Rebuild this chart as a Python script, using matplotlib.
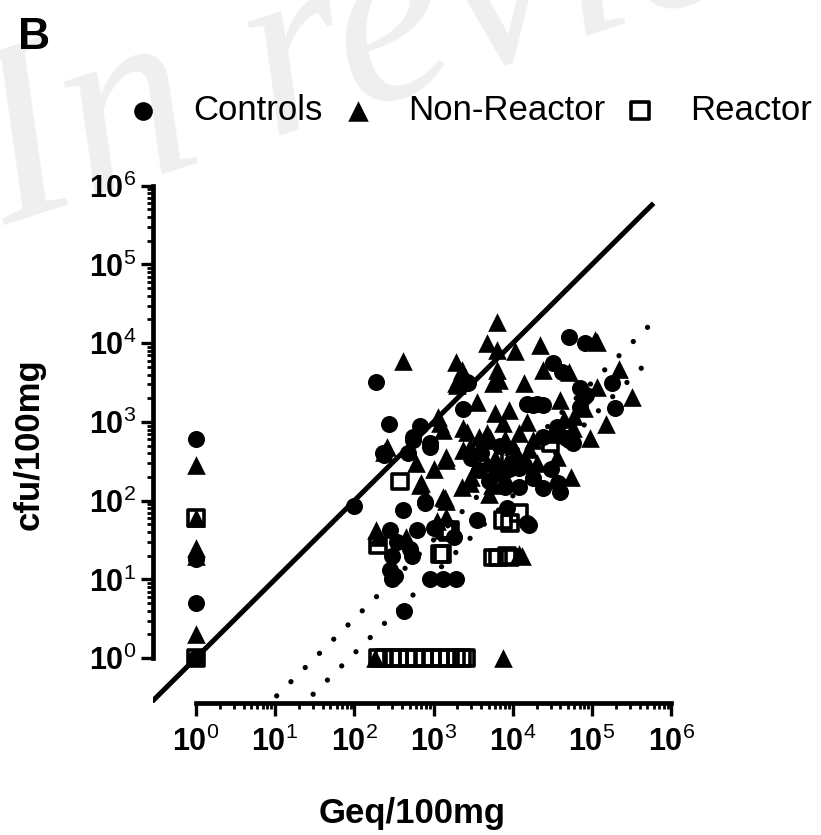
"""Geq vs cfu per 100 mg, log-log scatter (panel B)."""
import numpy as np
import matplotlib
matplotlib.use("Agg")
import matplotlib.pyplot as plt
from matplotlib.ticker import FixedLocator, FixedFormatter, NullFormatter

plt.rcParams["font.family"] = ["Liberation Sans", "DejaVu Sans"]
plt.rcParams["mathtext.fontset"] = "custom"
plt.rcParams["mathtext.rm"] = "Liberation Sans"
plt.rcParams["mathtext.bf"] = "Liberation Sans:bold"

# --- data ---
ctrl_geq = [1, 1, 1, 1, 100, 190, 275, 230, 240, 680, 550, 900, 470, 2650, 2350,
            52000, 81000, 32000, 42000, 18000, 24000, 80000, 195000, 52000, 70000,
            70000, 180000, 20000, 410, 780, 280, 500, 280, 300, 900, 1300, 1950, 430,
            16000, 12000, 24000, 40000, 550, 900, 770, 3800, 6300, 12000, 18000, 37000,
            24000, 47000, 620, 530, 330, 3500, 15000, 8400, 2700, 36000, 57000, 15000,
            85000, 5000, 8000, 10000, 30000, 4000, 7000, 14000, 1000, 1800, 350, 300,
            9000, 3000]
ctrl_cfu = [600, 18, 5, 1, 85, 3200, 950, 400, 380, 900, 640, 480, 400, 3200, 1450,
            12000, 10000, 5600, 4300, 1630, 1630, 2100, 1500, 590, 1550,
            2700, 3100, 1700, 76, 93, 42, 24, 13, 10, 10, 10, 10, 4,
            49, 150, 145, 130, 590, 540, 95, 245, 225, 260, 195, 170,
            640, 620, 42, 20, 11, 57, 52, 80, 3100, 860, 540, 1700,
            2200, 180, 150, 300, 250, 400, 500, 280, 45, 35, 30, 20,
            250, 350]

nonr_geq = [1, 1, 1, 1, 1, 410, 1950, 4700, 6300, 2000, 2650, 2900, 4700, 1300, 1450,
            10700, 22000, 14000, 24000, 52000, 115000, 220000, 320000, 115000, 150000,
            95000, 40000, 6300, 5600, 1950, 2300, 1150, 2350, 4700, 7500, 12000, 18000,
            3800, 1200, 5200, 1450, 2350, 700, 1400, 2900, 4700, 8400, 55000, 36000,
            57000, 260, 190, 310, 670, 1300, 2300, 1450, 1450, 12000, 13000, 180, 7500,
            240, 6300, 6800, 110000, 200, 3000, 5000, 8000, 10000, 20000, 30000, 60000,
            80000, 6000, 9000, 3500, 1000, 600, 15000, 45000, 6000, 11000, 5500, 16000,
            1100, 450, 8000]
nonr_cfu = [280, 60, 25, 20, 2, 6000, 5800, 10000, 18500, 2950, 750, 480, 590, 790, 360,
            8000, 9500, 3100, 4600, 4300, 10500, 4700, 2050, 2800, 950,
            620, 1900, 4600, 3100, 3100, 4600, 1150, 830, 720, 960, 720, 590,
            640, 960, 620, 330, 440, 170, 108, 170, 300, 310, 200, 360,
            830, 480, 42, 14, 158, 110, 150, 62, 100, 21, 20, 1, 1,
            420, 8200, 3400, 11000, 35, 200, 120, 200, 500, 300, 700, 1200,
            1500, 1300, 1400, 1800, 250, 300, 1000, 1100, 350, 400, 160, 450,
            55, 35, 600]

reac_geq = [1, 1, 380, 200, 1300, 1500, 5600, 6500, 9300, 7500, 9300, 12000, 8400,
            1600, 30000, 9300, 1400, 1200, 200, 240, 300, 370, 470, 590, 750, 950,
            1200, 1500, 1900, 2300, 2600]
reac_cfu = [60, 1, 175, 27, 21, 40, 19, 19, 19, 57, 52, 70, 20,
            42, 540, 360, 42, 21, 1, 1, 1, 1, 1, 1, 1, 1,
            1, 1, 1, 1, 1]

# reference lines: identity and two dotted offsets (log10 shift)
line_end = 6.0e5
dotted_shifts = [1.5, 1.94]
decades = list(range(0, 7))

fig = plt.figure(figsize=(8.21, 8.35), dpi=100)

# faint "In review" watermark, partly off the page as in the source
fig.text(0.006, 0.73, "In review", fontsize=185, color="#efefef",
         family="Liberation Serif", style="italic", rotation=18,
         rotation_mode="anchor", ha="left", va="baseline", zorder=-1)

ax = fig.add_axes([0.1864, 0.1581, 0.6321, 0.6204])
ax.set_facecolor("none")
ax.set_xscale("log"); ax.set_yscale("log")
ax.set_xlim(10 ** -0.54, 10 ** 6.01)
ax.set_ylim(10 ** -0.57, 10 ** 6.01)

xl = np.array([10 ** -0.6, line_end])
ax.plot(xl, xl, color="black", lw=3.6, solid_capstyle="butt", zorder=2)
for s in dotted_shifts:
    ax.plot(xl, xl / 10 ** s, color="black", lw=3.8, ls=(0, (0.01, 3.8)),
            dash_capstyle="round", zorder=2)

h_c = ax.scatter(ctrl_geq, ctrl_cfu, marker="o", s=150, color="black",
                 linewidths=0, zorder=3, label="Controls")
h_n = ax.scatter(nonr_geq, nonr_cfu, marker="^", s=180, color="black",
                 linewidths=0, zorder=3, label="Non-Reactor")
h_r = ax.scatter(reac_geq, reac_cfu, marker="s", s=130, facecolors="none",
                 edgecolors="black", linewidths=2.6, zorder=4, label="Reactor")

# Prism-like offset axes
for side in ("top", "right"):
    ax.spines[side].set_visible(False)
for side in ("left", "bottom"):
    ax.spines[side].set_linewidth(3.4)
    ax.spines[side].set_bounds(1, 1e6)

major = [10.0 ** d for d in decades]
minor = [m * 10.0 ** d for d in decades[:-1] for m in range(2, 10)]
labels = [r"$\mathbf{10}^{\mathrm{%d}}$" % d for d in decades]
for axis in (ax.xaxis, ax.yaxis):
    axis.set_major_locator(FixedLocator(major))
    axis.set_major_formatter(FixedFormatter(labels))
    axis.set_minor_locator(FixedLocator(minor))
    axis.set_minor_formatter(NullFormatter())
ax.tick_params(which="major", direction="out", length=9, width=2.4, labelsize=22)
ax.tick_params(which="minor", direction="out", length=4.5, width=2.0)
ax.tick_params(axis="x", which="major", pad=8)
ax.tick_params(axis="y", which="major", pad=3)

ax.set_xlabel("Geq/100mg", fontsize=25, fontweight="bold", labelpad=28)
ax.set_ylabel("cfu/100mg", fontsize=25, fontweight="bold", labelpad=31)

fig.legend(handles=[h_c, h_n, h_r], loc="center", bbox_to_anchor=(0.5715, 0.868),
           ncol=3, frameon=False, fontsize=25, handlelength=1.0,
           handletextpad=0.95, columnspacing=0.5, scatterpoints=1,
           markerscale=1.1)

fig.text(0.022, 0.955, "B", fontsize=32, fontweight="bold", ha="left", va="center")

fig.savefig("out.png", dpi=100)
